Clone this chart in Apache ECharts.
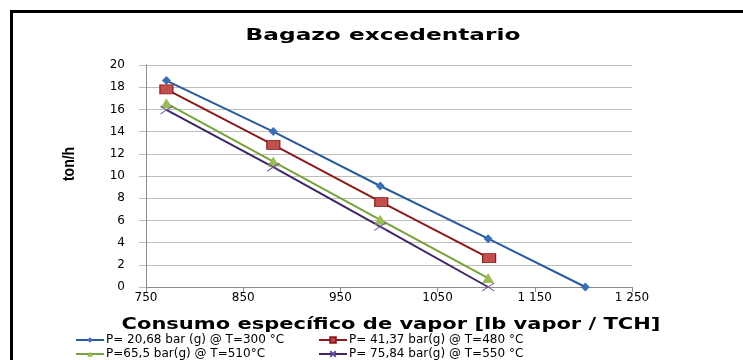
<!DOCTYPE html>
<html>
<head>
<meta charset="utf-8">
<script src="https://cdn.jsdelivr.net/npm/echarts@6/dist/echarts.min.js"></script>
<style>
  html, body { margin: 0; padding: 0; background: #fff; }
  #chart { width: 743px; height: 360px; }
</style>
</head>
<body>
<div id="chart"></div>
<script>
// Steam consumption (lb vapor / TCH) against surplus bagasse (ton/h)
const seriesNames = [
  'P= 20,68 bar (g) @ T=300 °C',
  'P= 41,37 bar(g) @ T=480 °C',
  'P=65,5 bar(g) @ T=510°C',
  'P= 75,84 bar(g) @ T=550 °C'
];
const consumo1 = [771, 881, 991, 1102, 1202];
const bagazo1  = [18.6, 14.0, 9.1, 4.35, 0];
const consumo2 = [771, 881, 992, 1103];
const bagazo2  = [17.8, 12.8, 7.65, 2.6];
const consumo3 = [771, 881, 991, 1102];
const bagazo3  = [16.55, 11.3, 6.05, 0.8];
const consumo4 = [771, 881, 991, 1102];
const bagazo4  = [15.95, 10.8, 5.45, 0];
const xTickLabels = ['750', '850', '950', '1050', '1 150', '1 250'];
const yTickLabels = ['0', '2', '4', '6', '8', '10', '12', '14', '16', '18', '20'];

const pairs = (xs, ys) => xs.map((x, i) => [x, ys[i]]);
const FONT = '"DejaVu Sans", Verdana, sans-serif';

const chart = echarts.init(document.getElementById('chart'), null, { renderer: 'canvas' });

const crossPath = 'path://M0,0L10,10M10,0L0,10';

// one legend entry per block so the two columns line up
const legendAt = (name, left, top) => ({
  left, top, itemWidth: 28, itemHeight: 7, padding: 0,
  textStyle: { fontFamily: FONT, fontSize: 12, color: '#000', padding: [0, 0, 0, -3] },
  data: [name]
});

const option = {
  backgroundColor: '#fff',
  animation: false,
  grid: { left: 146, right: 111, top: 65, bottom: 73, containLabel: false },
  xAxis: {
    type: 'value', min: 750, max: 1250, interval: 100,
    axisLine: { lineStyle: { color: '#8c8c8c', width: 1 } },
    axisTick: { show: true, length: 5, lineStyle: { color: '#8c8c8c' } },
    splitLine: { show: false },
    axisLabel: {
      color: '#000', fontFamily: FONT, fontSize: 12, margin: 5,
      formatter: v => xTickLabels[Math.round((v - 750) / 100)]
    }
  },
  yAxis: {
    type: 'value', min: 0, max: 20, interval: 2,
    axisLine: { show: true, lineStyle: { color: '#8c8c8c', width: 1 } },
    axisTick: { show: true, length: 7, lineStyle: { color: '#bdbdbd' } },
    splitLine: { lineStyle: { color: '#bdbdbd', width: 1 } },
    axisLabel: {
      color: '#000', fontFamily: FONT, fontSize: 12, margin: 21,
      formatter: v => yTickLabels[Math.round(v / 2)]
    }
  },
  legend: [
    legendAt(seriesNames[0], 75, 334),
    legendAt(seriesNames[1], 318, 334),
    legendAt(seriesNames[2], 75, 348),
    legendAt(seriesNames[3], 318, 348)
  ],
  series: [
    {
      name: seriesNames[0], type: 'line', data: pairs(consumo1, bagazo1),
      symbol: 'diamond', symbolSize: 9,
      lineStyle: { color: '#2a5b9c', width: 2 },
      itemStyle: { color: '#3b6fb4' }
    },
    {
      name: seriesNames[1], type: 'line', data: pairs(consumo2, bagazo2),
      symbol: 'rect', symbolSize: [13, 9],
      lineStyle: { color: '#8b1a1a', width: 2 },
      itemStyle: { color: '#c0504d', borderColor: '#8b1a1a', borderWidth: 1 }
    },
    {
      name: seriesNames[2], type: 'line', data: pairs(consumo3, bagazo3),
      symbol: 'triangle', symbolSize: [12, 10],
      lineStyle: { color: '#77a33c', width: 2 },
      itemStyle: { color: '#9bbb59' }
    },
    {
      name: seriesNames[3], type: 'line', data: pairs(consumo4, bagazo4),
      symbol: crossPath, symbolSize: [12, 8],
      lineStyle: { color: '#3e2566', width: 2 },
      itemStyle: { color: 'rgba(0,0,0,0)', borderColor: '#6a4f96', borderWidth: 1 }
    }
  ],
  graphic: [
    // outer frame (top and left edges)
    { type: 'rect', shape: { x: 10, y: 10, width: 733, height: 3 }, style: { fill: '#000' } },
    { type: 'rect', shape: { x: 10, y: 10, width: 3, height: 350 }, style: { fill: '#000' } },
    {
      type: 'text', x: 383, y: 36, scaleX: 1.55,
      style: { text: 'Bagazo excedentario', fill: '#000', font: 'bold 15px ' + FONT, textAlign: 'center', textVerticalAlign: 'middle' }
    },
    {
      type: 'text', x: 391, y: 325, scaleX: 1.4,
      style: { text: 'Consumo específico de vapor [lb vapor / TCH]', fill: '#000', font: 'bold 15px ' + FONT, textAlign: 'center', textVerticalAlign: 'middle' }
    },
    {
      type: 'text', x: 69, y: 164, rotation: Math.PI / 2, scaleX: 0.82,
      style: { text: 'ton/h', fill: '#000', font: 'bold 17px "Liberation Sans", Arial, sans-serif', textAlign: 'center', textVerticalAlign: 'middle' }
    }
  ]
};

chart.setOption(option);
</script>
</body>
</html>
